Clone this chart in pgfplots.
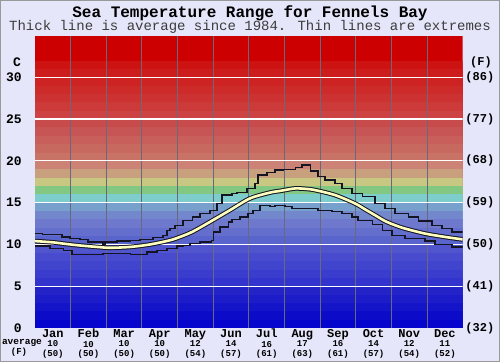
\documentclass[border=0pt]{standalone}
\usepackage{pgfplots}
\pgfplotsset{compat=1.18}
\usepackage{fontspec}
\setmainfont{Liberation Mono}
\definecolor{bgc}{RGB}{230,230,250}
\definecolor{avgc}{RGB}{255,255,190}
\definecolor{lnc}{RGB}{20,20,35}
\definecolor{vgrid}{RGB}{105,105,125}
\definecolor{b36}{RGB}{204,0,0}
\definecolor{b32}{RGB}{205,18,18}
\definecolor{b31}{RGB}{205,28,28}
\definecolor{b30}{RGB}{205,35,35}
\definecolor{b29}{RGB}{205,42,42}
\definecolor{b28}{RGB}{205,50,50}
\definecolor{b27}{RGB}{205,58,58}
\definecolor{b26}{RGB}{205,66,66}
\definecolor{b25}{RGB}{200,75,75}
\definecolor{b24}{RGB}{200,85,85}
\definecolor{b23}{RGB}{200,95,90}
\definecolor{b22}{RGB}{200,105,95}
\definecolor{b21}{RGB}{200,115,102}
\definecolor{b20}{RGB}{205,130,118}
\definecolor{b19}{RGB}{200,160,125}
\definecolor{b18}{RGB}{200,200,130}
\definecolor{b17}{RGB}{130,200,130}
\definecolor{b16}{RGB}{125,205,205}
\definecolor{b15}{RGB}{120,160,205}
\definecolor{b14}{RGB}{115,135,205}
\definecolor{b13}{RGB}{110,120,205}
\definecolor{b12}{RGB}{100,110,205}
\definecolor{b11}{RGB}{90,100,205}
\definecolor{b10}{RGB}{80,85,205}
\definecolor{b9}{RGB}{72,75,205}
\definecolor{b8}{RGB}{65,68,205}
\definecolor{b7}{RGB}{58,60,205}
\definecolor{b6}{RGB}{50,52,205}
\definecolor{b5}{RGB}{35,35,200}
\definecolor{b4}{RGB}{28,28,200}
\definecolor{b3}{RGB}{20,20,200}
\definecolor{b2}{RGB}{12,12,200}
\definecolor{b1}{RGB}{5,5,205}
\newcommand{\band}[2]{\addplot[fill=#2,draw=none,forget plot] coordinates {(0,#1) (12,#1)} \closedcycle;}
\newcommand{\hgrid}[1]{\addplot[white,line width=1.2pt,forget plot] coordinates {(0,#1) (12,#1)};}
\newcommand{\vgridl}[1]{\addplot[vgrid,line width=0.9pt,forget plot] coordinates {(#1,0) (#1,35)};}
\begin{document}
\begin{tikzpicture}
\fill[bgc] (-35pt,-34pt) rectangle (465pt,328pt);
\path[use as bounding box] (-35pt,-34pt) rectangle (465pt,328pt);
\draw[gray!80,line width=1pt] (-34.5pt,-33.5pt) rectangle (464.5pt,327.5pt);
\node[font=\bfseries\fontsize{16}{16}\selectfont] at (215pt,315pt) {Sea Temperature Range for Fennels Bay};
\node[font=\fontsize{14}{14}\selectfont, text={rgb,255:red,60;green,60;blue,60}] at (215pt,301.5pt) {Thick line is average since 1984. Thin lines are extremes};
\node[font=\bfseries\fontsize{13}{13}\selectfont] at (-18pt,266pt) {C};
\node[font=\bfseries\fontsize{12}{12}\selectfont] at (446pt,266pt) {(F)};
\node[font=\bfseries\fontsize{9.5}{9.5}\selectfont] at (-13pt,-15pt) {average};
\node[font=\bfseries\fontsize{9}{9}\selectfont] at (-16pt,-24.5pt) {(F)};
\begin{axis}[anchor=south west, width=427.7pt, height=292.5pt, scale only axis,
  xmin=0, xmax=12, ymin=0, ymax=35, axis line style={draw=none}, major tick length=0pt,
  ytick={0,5,...,30}, yticklabels={0,5,10,15,20,25,30},
  yticklabel style={font=\bfseries\fontsize{13}{13}\selectfont, anchor=east, inner sep=0pt, xshift=-13pt},
  xtick={0.5,1.5,...,11.5},
  xticklabels={
   {{\fontsize{12}{12}\selectfont Jan}\\10\\(50)},
   {{\fontsize{12}{12}\selectfont Feb}\\10\\(50)},
   {{\fontsize{12}{12}\selectfont Mar}\\10\\(50)},
   {{\fontsize{12}{12}\selectfont Apr}\\10\\(50)},
   {{\fontsize{12}{12}\selectfont May}\\12\\(54)},
   {{\fontsize{12}{12}\selectfont Jun}\\14\\(57)},
   {{\fontsize{12}{12}\selectfont Jul}\\16\\(61)},
   {{\fontsize{12}{12}\selectfont Aug}\\17\\(63)},
   {{\fontsize{12}{12}\selectfont Sep}\\16\\(61)},
   {{\fontsize{12}{12}\selectfont Oct}\\14\\(57)},
   {{\fontsize{12}{12}\selectfont Nov}\\12\\(54)},
   {{\fontsize{12}{12}\selectfont Dec}\\11\\(52)}},
  xticklabel style={align=center, font=\bfseries\fontsize{9}{9.5}\selectfont, inner sep=0pt, anchor=north, yshift=-1pt},
  no markers, clip=true]
\band{35}{b36}
\band{32}{b32}
\band{31}{b31}
\band{30}{b30}
\band{29}{b29}
\band{28}{b28}
\band{27}{b27}
\band{26}{b26}
\band{25}{b25}
\band{24}{b24}
\band{23}{b23}
\band{22}{b22}
\band{21}{b21}
\band{20}{b20}
\band{19}{b19}
\band{18}{b18}
\band{17}{b17}
\band{16}{b16}
\band{15}{b15}
\band{14}{b14}
\band{13}{b13}
\band{12}{b12}
\band{11}{b11}
\band{10}{b10}
\band{9}{b9}
\band{8}{b8}
\band{7}{b7}
\band{6}{b6}
\band{5}{b5}
\band{4}{b4}
\band{3}{b3}
\band{2}{b2}
\band{1}{b1}
\vgridl{1}\vgridl{2}\vgridl{3}\vgridl{4}\vgridl{5}\vgridl{6}
\vgridl{7}\vgridl{8}\vgridl{9}\vgridl{10}\vgridl{11}
\hgrid{5}\hgrid{10}\hgrid{15}\hgrid{20}\hgrid{25}\hgrid{30}
% maximum
\addplot[const plot, lnc, line width=1.3pt] coordinates {
(0,11.3) (0.22,11.2) (0.76,10.9) (0.98,10.7) (1.26,10.6) (1.49,10.3) (1.91,10.0) (1.96,10.3)
(2.30,10.4) (2.67,10.5) (2.95,10.6) (3.31,10.8) (3.59,11.1) (3.70,11.7) (3.79,11.9) (3.93,12.3)
(4.15,12.9) (4.41,13.3) (4.63,13.7) (4.91,14.1) (5.11,14.9) (5.25,15.9) (5.53,16.1) (5.67,16.2)
(5.95,16.7) (6.17,17.3) (6.26,18.3) (6.51,18.6) (6.73,18.9) (6.96,19.0) (7.30,19.2) (7.49,19.5)
(7.72,18.8) (7.94,18.1) (8.14,17.7) (8.42,17.3) (8.61,16.7) (8.89,16.1) (9.18,15.7) (9.54,14.9)
(9.82,14.3) (10.10,13.7) (10.47,13.3) (10.75,12.8) (11.14,12.3) (11.42,11.9) (11.70,11.5) (12,11.5)};
% minimum
\addplot[const plot, lnc, line width=1.3pt] coordinates {
(0,9.8) (0.42,9.5) (0.79,9.3) (1.04,8.8) (1.91,8.9) (2.67,8.8) (3.14,9.1) (3.42,9.3) (3.70,9.5)
(3.98,9.8) (4.15,9.9) (4.35,10.1) (4.63,10.3) (4.95,10.5) (5.0,11.5) (5.19,12.1) (5.42,12.7)
(5.53,13.0) (5.75,13.3) (5.98,13.7) (6.12,14.1) (6.31,14.7) (6.59,14.5) (6.73,14.7) (7.01,14.5)
(7.21,14.3) (7.94,14.1) (8.33,13.9) (8.61,13.7) (8.89,13.3) (9.06,12.9) (9.46,12.4) (9.74,11.7)
(10.02,11.1) (10.38,10.7) (10.94,10.4) (11.22,10.0) (11.70,9.7) (12,9.7)};
% average
\addplot[lnc, line width=4.6pt, smooth] coordinates {
(0,10.4) (0.5,10.25) (0.79,10.1) (1.2,9.9) (1.74,9.7) (2.1,9.6) (2.67,9.7) (3.23,10.0) (3.79,10.5)
(4.07,10.9) (4.41,11.5) (4.91,12.7) (5.47,14.1) (6.03,15.5) (6.59,16.2) (6.87,16.4) (7.0,16.5)
(7.30,16.7) (7.6,16.65) (7.86,16.5) (8.42,15.9) (8.98,14.9) (9.26,14.2) (9.54,13.5) (9.82,12.8)
(10.1,12.3) (10.38,11.9) (10.94,11.3) (11.5,10.9) (12,10.6)};
\addplot[avgc, line width=2.6pt, smooth] coordinates {
(0,10.4) (0.5,10.25) (0.79,10.1) (1.2,9.9) (1.74,9.7) (2.1,9.6) (2.67,9.7) (3.23,10.0) (3.79,10.5)
(4.07,10.9) (4.41,11.5) (4.91,12.7) (5.47,14.1) (6.03,15.5) (6.59,16.2) (6.87,16.4) (7.0,16.5)
(7.30,16.7) (7.6,16.65) (7.86,16.5) (8.42,15.9) (8.98,14.9) (9.26,14.2) (9.54,13.5) (9.82,12.8)
(10.1,12.3) (10.38,11.9) (10.94,11.3) (11.5,10.9) (12,10.6)};
\end{axis}
\begin{axis}[anchor=south west, width=427.7pt, height=292.5pt, scale only axis,
  xmin=0, xmax=12, ymin=0, ymax=35, axis line style={draw=none}, major tick length=0pt,
  xtick=\empty, ytick={0,5,...,30}, yticklabel pos=right,
  yticklabels={(32),(41),(50),(59),(68),(77),(86)},
  yticklabel style={font=\bfseries\fontsize{12}{12}\selectfont, anchor=west, inner sep=0pt, xshift=2.5pt}]
\addplot[draw=none, forget plot] coordinates {(0,0) (12,35)};
\end{axis}
\end{tikzpicture}
\end{document}
